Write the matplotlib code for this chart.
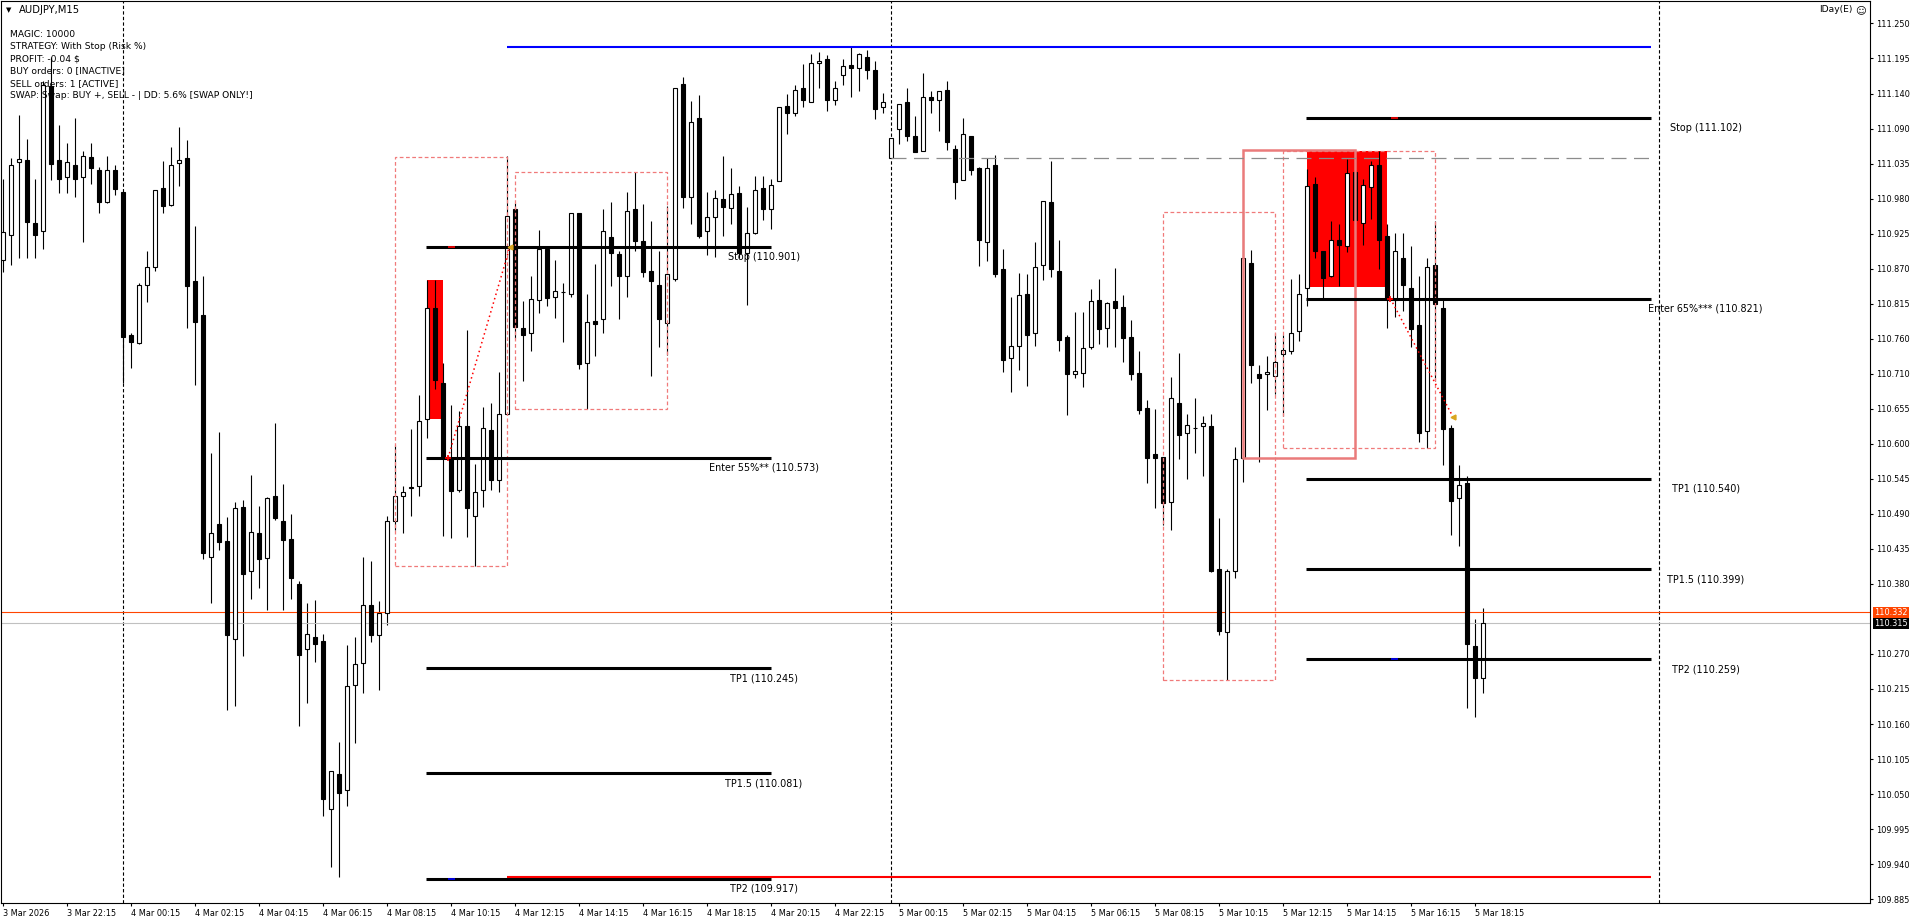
import matplotlib
matplotlib.use('Agg')
import matplotlib.pyplot as plt
import matplotlib.transforms as mtransforms
from matplotlib.patches import Rectangle
import numpy as np

plt.rcParams['font.family'] = ['DejaVu Sans']

W, H = 1916, 924

# AUDJPY M15 candles, first bar = 3 Mar 20:15
opens = [110.881, 110.920, 111.034, 111.037, 110.939, 110.927, 111.153, 111.037, 111.011, 111.029,
         111.011, 111.042, 111.022, 110.972, 111.021, 110.987, 110.764, 110.752, 110.842, 110.871,
         110.993, 110.967, 111.032, 111.040, 110.848, 110.796, 110.419, 110.469, 110.444, 110.290,
         110.496, 110.396, 110.455, 110.417, 110.513, 110.475, 110.447, 110.377, 110.275, 110.294,
         110.287, 110.026, 110.080, 110.055, 110.219, 110.253, 110.344, 110.297, 110.331, 110.474,
         110.514, 110.526, 110.529, 110.633, 110.807, 110.689, 110.573, 110.523, 110.623, 110.482,
         110.522, 110.617, 110.539, 110.641, 110.961, 110.775, 110.767, 110.819, 110.899, 110.823,
         110.831, 110.829, 110.954, 110.720, 110.786, 110.789, 110.917, 110.891, 110.856, 110.961,
         110.911, 110.864, 110.842, 110.783, 110.852, 111.155, 110.980, 111.102, 110.926, 110.948,
         110.976, 110.962, 110.985, 110.892, 110.924, 110.993, 110.961, 111.004, 111.121, 111.110,
         111.149, 111.128, 111.188, 111.194, 111.130, 111.170, 111.185, 111.180, 111.197, 111.177,
         111.120, 111.041, 111.085, 111.127, 111.074, 111.051, 111.135, 111.130, 111.146, 111.055,
         111.006, 111.074, 111.025, 110.910, 111.030, 110.868, 110.728, 110.748, 110.828, 110.767,
         110.873, 110.971, 110.864, 110.761, 110.703, 110.705, 110.745, 110.819, 110.775, 110.817,
         110.808, 110.761, 110.705, 110.651, 110.579, 110.574, 110.504, 110.658, 110.611, 110.620,
         110.623, 110.622, 110.400, 110.302, 110.396, 110.572, 110.877, 110.704, 110.703, 110.701,
         110.735, 110.739, 110.770, 110.838, 110.999, 110.895, 110.856, 110.913, 110.903, 111.018,
         110.939, 110.995, 111.030, 110.919, 110.819, 110.884, 110.837, 110.780, 110.615, 110.874,
         110.807, 110.620, 110.510, 110.534, 110.279, 110.229]
highs = [111.008, 111.040, 111.107, 111.070, 111.008, 111.160, 111.198, 111.092, 111.064, 111.102,
         111.051, 111.064, 111.027, 111.043, 111.029, 110.987, 110.768, 110.846, 110.895, 110.991,
         111.036, 111.057, 111.088, 111.068, 110.934, 110.857, 110.580, 110.613, 110.481, 110.504,
         110.507, 110.546, 110.498, 110.512, 110.627, 110.532, 110.486, 110.381, 110.347, 110.351,
         110.298, 110.084, 110.130, 110.281, 110.293, 110.419, 110.412, 110.349, 110.483, 110.593,
         110.529, 110.618, 110.671, 110.850, 110.850, 110.721, 110.656, 110.646, 110.772, 110.563,
         110.652, 110.659, 110.707, 111.043, 110.970, 110.817, 110.856, 110.928, 110.899, 110.881,
         110.846, 110.954, 110.954, 110.828, 110.875, 110.961, 110.972, 110.896, 110.987, 111.018,
         110.969, 110.942, 110.895, 110.965, 111.149, 111.166, 111.129, 111.138, 110.987, 110.990,
         111.043, 111.024, 110.997, 110.964, 111.012, 111.012, 111.008, 111.119, 111.140, 111.154,
         111.187, 111.202, 111.205, 111.201, 111.160, 111.195, 111.213, 111.204, 111.209, 111.191,
         111.141, 111.072, 111.125, 111.150, 111.105, 111.172, 111.144, 111.144, 111.161, 111.061,
         111.102, 111.074, 111.027, 111.040, 111.045, 110.899, 110.823, 110.861, 110.859, 110.909,
         110.973, 111.035, 110.912, 110.764, 110.801, 110.800, 110.836, 110.852, 110.816, 110.869,
         110.827, 110.788, 110.739, 110.663, 110.649, 110.574, 110.699, 110.736, 110.641, 110.666,
         110.638, 110.642, 110.479, 110.400, 110.590, 110.956, 110.897, 110.718, 110.732, 110.767,
         110.764, 110.851, 110.859, 111.023, 111.010, 110.895, 110.942, 110.938, 111.038, 111.051,
         111.007, 111.035, 111.051, 110.938, 110.923, 110.923, 110.903, 110.856, 110.884, 110.942,
         110.819, 110.624, 110.561, 110.545, 110.321, 110.339]
lows = [110.862, 110.873, 110.885, 110.885, 110.885, 110.899, 111.006, 110.985, 110.985, 110.979,
        110.910, 111.000, 110.954, 110.970, 110.983, 110.690, 110.713, 110.751, 110.816, 110.864,
        110.954, 110.965, 110.997, 110.775, 110.686, 110.415, 110.346, 110.429, 110.180, 110.186,
        110.264, 110.353, 110.370, 110.336, 110.476, 110.336, 110.353, 110.155, 110.191, 110.254,
        110.015, 109.935, 109.920, 110.030, 110.128, 110.206, 110.286, 110.211, 110.312, 110.461,
        110.455, 110.482, 110.514, 110.604, 110.680, 110.451, 110.448, 110.520, 110.449, 110.404,
        110.496, 110.522, 110.520, 110.640, 110.760, 110.693, 110.740, 110.799, 110.809, 110.791,
        110.754, 110.823, 110.712, 110.649, 110.732, 110.768, 110.841, 110.789, 110.823, 110.895,
        110.855, 110.701, 110.745, 110.733, 110.849, 110.962, 110.937, 110.915, 110.889, 110.886,
        110.918, 110.938, 110.885, 110.811, 110.922, 110.944, 110.930, 111.004, 111.078, 111.105,
        111.120, 111.128, 111.150, 111.113, 111.123, 111.154, 111.135, 111.145, 111.164, 111.101,
        111.110, 111.041, 111.062, 111.066, 111.049, 111.051, 111.110, 111.083, 111.053, 110.977,
        111.006, 111.013, 110.872, 110.879, 110.855, 110.706, 110.676, 110.710, 110.685, 110.748,
        110.850, 110.855, 110.740, 110.639, 110.698, 110.684, 110.743, 110.751, 110.745, 110.746,
        110.723, 110.695, 110.642, 110.534, 110.495, 110.468, 110.461, 110.571, 110.540, 110.581,
        110.545, 110.395, 110.296, 110.227, 110.386, 110.536, 110.690, 110.567, 110.648, 110.673,
        110.638, 110.734, 110.755, 110.809, 110.885, 110.822, 110.855, 110.841, 110.893, 110.937,
        110.904, 110.945, 110.867, 110.776, 110.792, 110.802, 110.746, 110.598, 110.589, 110.692,
        110.561, 110.453, 110.436, 110.183, 110.169, 110.207]
closes = [110.925, 111.029, 111.038, 110.941, 110.920, 111.154, 111.031, 111.008, 111.034, 111.008,
          111.044, 111.025, 110.971, 111.021, 110.992, 110.762, 110.754, 110.842, 110.871, 110.991,
          110.966, 111.030, 111.037, 110.841, 110.785, 110.424, 110.455, 110.441, 110.297, 110.494,
          110.392, 110.458, 110.415, 110.510, 110.479, 110.445, 110.386, 110.266, 110.298, 110.282,
          110.041, 110.084, 110.050, 110.217, 110.251, 110.343, 110.297, 110.331, 110.475, 110.514,
          110.519, 110.527, 110.631, 110.806, 110.695, 110.573, 110.521, 110.622, 110.494, 110.519,
          110.619, 110.538, 110.641, 110.950, 110.777, 110.764, 110.820, 110.899, 110.822, 110.833,
          110.831, 110.954, 110.719, 110.784, 110.781, 110.927, 110.892, 110.857, 110.958, 110.911,
          110.862, 110.848, 110.789, 110.859, 111.149, 110.979, 111.097, 110.919, 110.949, 110.978,
          110.964, 110.984, 110.892, 110.923, 110.991, 110.960, 110.998, 111.119, 111.111, 111.147,
          111.130, 111.188, 111.192, 111.130, 111.149, 111.184, 111.180, 111.202, 111.178, 111.117,
          111.128, 111.072, 111.125, 111.074, 111.049, 111.135, 111.130, 111.144, 111.065, 111.003,
          111.077, 111.022, 110.913, 111.025, 110.859, 110.725, 110.747, 110.826, 110.765, 110.870,
          110.973, 110.868, 110.757, 110.704, 110.709, 110.744, 110.817, 110.773, 110.814, 110.807,
          110.759, 110.703, 110.648, 110.573, 110.572, 110.502, 110.666, 110.609, 110.624, 110.620,
          110.627, 110.397, 110.303, 110.396, 110.571, 110.884, 110.718, 110.698, 110.707, 110.722,
          110.741, 110.767, 110.829, 110.996, 110.895, 110.854, 110.912, 110.905, 111.017, 110.944,
          110.998, 111.029, 110.913, 110.822, 110.895, 110.842, 110.774, 110.612, 110.870, 110.812,
          110.618, 110.505, 110.531, 110.283, 110.230, 110.315]

x_labels = ['3 Mar 2026', '3 Mar 22:15', '4 Mar 00:15', '4 Mar 02:15', '4 Mar 04:15', '4 Mar 06:15',
            '4 Mar 08:15', '4 Mar 10:15', '4 Mar 12:15', '4 Mar 14:15', '4 Mar 16:15', '4 Mar 18:15',
            '4 Mar 20:15', '4 Mar 22:15', '5 Mar 00:15', '5 Mar 02:15', '5 Mar 04:15', '5 Mar 06:15',
            '5 Mar 08:15', '5 Mar 10:15', '5 Mar 12:15', '5 Mar 14:15', '5 Mar 16:15', '5 Mar 18:15']
y_labels = ['111.250', '111.195', '111.140', '111.090', '111.035', '110.980', '110.925', '110.870',
            '110.815', '110.760', '110.710', '110.655', '110.600', '110.545', '110.490', '110.435',
            '110.380', '110.325', '110.270', '110.215', '110.160', '110.105', '110.050', '109.995',
            '109.940', '109.885']

info_lines = ['MAGIC: 10000', 'STRATEGY: With Stop (Risk %)', 'PROFIT: -0.04 $',
              'BUY orders: 0 [INACTIVE]', 'SELL orders: 1 [ACTIVE]',
              'SWAP: Swap: BUY +, SELL - | DD: 5.6% [SWAP ONLY!]']

day_breaks = [15, 111, 207]

left_names = ['Stop (110.901)', 'Enter 55%** (110.573)', 'TP1 (110.245)', 'TP1.5 (110.081)', 'TP2 (109.917)']
left_prices = [110.901, 110.573, 110.245, 110.081, 109.917]
right_names = ['Stop (111.102)', 'Enter 65%*** (110.821)', 'TP1 (110.540)', 'TP1.5 (110.399)', 'TP2 (110.259)']
right_prices = [111.102, 110.821, 110.540, 110.399, 110.259]

# range boxes: (first bar, last bar, low, high)
dashed_boxes = [(49, 63, 110.404, 111.042), (64, 83, 110.649, 111.018),
                (145, 159, 110.227, 110.956), (160, 179, 110.589, 111.051)]
red_boxes = [(53, 55, 110.634, 110.850), (163, 173, 110.839, 111.051)]
solid_box = (155, 169, 110.572, 111.052)

range_high = 111.213
range_low = 109.920
day_open = 111.041
ask_price = 110.332
bid_price = 110.315

# trades: (open bar, open price, close bar, close price)
trades = [(55.6, 110.573, 63.3, 110.901), (173.4, 110.821, 181.2, 110.637)]

o = np.array(opens)
h = np.array(highs)
l = np.array(lows)
c = np.array(closes)
idx = np.arange(len(o))
up = c >= o

fig = plt.figure(figsize=(W / 100, H / 100), dpi=100)
ax = fig.add_axes([1 / W, 21 / H, 1869 / W, 902 / H])
ax.set_xlim(-0.29, 233.34)
ax.set_ylim(109.8790, 111.2850)

# red boxes sit behind the candles
for b0, b1, lo, hi in red_boxes:
    ax.add_patch(Rectangle((b0, lo), b1 - b0, hi - lo, facecolor='#ff0000', edgecolor='none', zorder=1))

ax.vlines(idx, l, h, color='black', lw=0.8, zorder=2)
ax.bar(idx[up], (c - o)[up], bottom=o[up], width=0.5, facecolor='white', edgecolor='black', lw=0.8, zorder=3)
ax.bar(idx[~up], (o - c)[~up], bottom=c[~up], width=0.5, facecolor='black', edgecolor='black', lw=0.8, zorder=3)

for b0, b1, lo, hi in dashed_boxes:
    ax.add_patch(Rectangle((b0, lo), b1 - b0, hi - lo, fill=False, edgecolor='#f07a7a',
                           lw=0.9, linestyle=(0, (3, 2)), zorder=4))
b0, b1, lo, hi = solid_box
ax.add_patch(Rectangle((b0, lo), b1 - b0, hi - lo, fill=False, edgecolor='#ea7b7b', lw=1.8, zorder=4))

for d in day_breaks:
    ax.axvline(d, color='black', lw=0.8, linestyle=(0, (3, 2)), zorder=1)

ax.axhline(ask_price, color='#ff4500', lw=0.8, zorder=2)
ax.axhline(bid_price, color='#c0c0c0', lw=0.8, zorder=2)
ax.hlines(day_open, 111, 205.96, color='#8c8c8c', lw=0.9, linestyles=[(0, (12, 6))], zorder=4)
ax.hlines(range_high, 63.0, 205.96, color='#0000ff', lw=1.5, zorder=5)
ax.hlines(range_low, 63.0, 205.96, color='#ff0000', lw=1.5, zorder=6)

# trade levels
for names, prices, x0, x1, xt, mark in [(left_names, left_prices, 52.84, 95.96, 95.1, 55.6),
                                         (right_names, right_prices, 162.9, 205.96, 212.8, 173.5)]:
    ax.hlines(prices, x0, x1, color='black', lw=2.2, zorder=5)
    ax.hlines(prices[0] + 0.001, mark, mark + 0.9, color='#ff0000', lw=1.2, zorder=6)
    ax.hlines(prices[-1], mark, mark + 0.9, color='#0000ff', lw=1.2, zorder=7)
    for name, p in zip(names, prices):
        ax.annotate(name, xy=(xt, p), xytext=(0, -10), textcoords='offset pixels',
                    ha='center', va='center', fontsize=6.9, color='black', zorder=8)

for b0, p0, b1, p1 in trades:
    ax.plot([b0, b1], [p0, p1], color='#ff0000', lw=1.1, linestyle=(0, (1, 2)), zorder=6)
    ax.plot([b0], [p0], marker='+', color='#ff0000', ms=5, mew=1.2, zorder=7)
    ax.plot([b1], [p1], marker='<', color='#daa520', ms=3.5, zorder=7)

# axes
ax.yaxis.tick_right()
ypos = np.linspace(float(y_labels[0]), float(y_labels[-1]), len(y_labels))
keep = [k for k in range(len(y_labels)) if y_labels[k] != '110.325']
ax.set_yticks(ypos[keep])
ax.set_yticklabels([y_labels[k] for k in keep])
ax.set_xticks(np.arange(0, 8 * len(x_labels), 8))
ax.set_xticklabels(x_labels, ha='left')
ax.tick_params(axis='both', length=2.5, width=0.8, pad=1.5, labelsize=5.9, colors='black')
for s in ax.spines.values():
    s.set_linewidth(0.8)
    s.set_color('black')

blend = mtransforms.blended_transform_factory(ax.transAxes, ax.transData)
for p, txt, bg in [(ask_price, '110.332', '#ff4500'), (bid_price, '110.315', 'black')]:
    ax.annotate(txt, xy=(1, p), xycoords=blend, xytext=(4, 0), textcoords='offset pixels',
                ha='left', va='center', fontsize=5.9, color='white', annotation_clip=False,
                bbox=dict(boxstyle='square,pad=0.15', facecolor=bg, edgecolor='none'))

# header texts
fig.text(6 / W, 1 - 10 / H, '\u25bc', fontsize=5, va='center', ha='left')
fig.text(19 / W, 1 - 10 / H, 'AUDJPY,M15', fontsize=7.2, va='center', ha='left')
for k, line in enumerate(info_lines):
    fig.text(10.5 / W, 1 - (34.5 + 12.2 * k) / H, line, fontsize=6.6, va='center', ha='left')
fig.text(1853 / W, 1 - 10 / H, 'IDay(E)', fontsize=6.6, va='center', ha='right')
fig.text(1861 / W, 1 - 10 / H, '\u263a', fontsize=7.5, va='center', ha='center')

fig.savefig('out.png', dpi=100, facecolor='white')
